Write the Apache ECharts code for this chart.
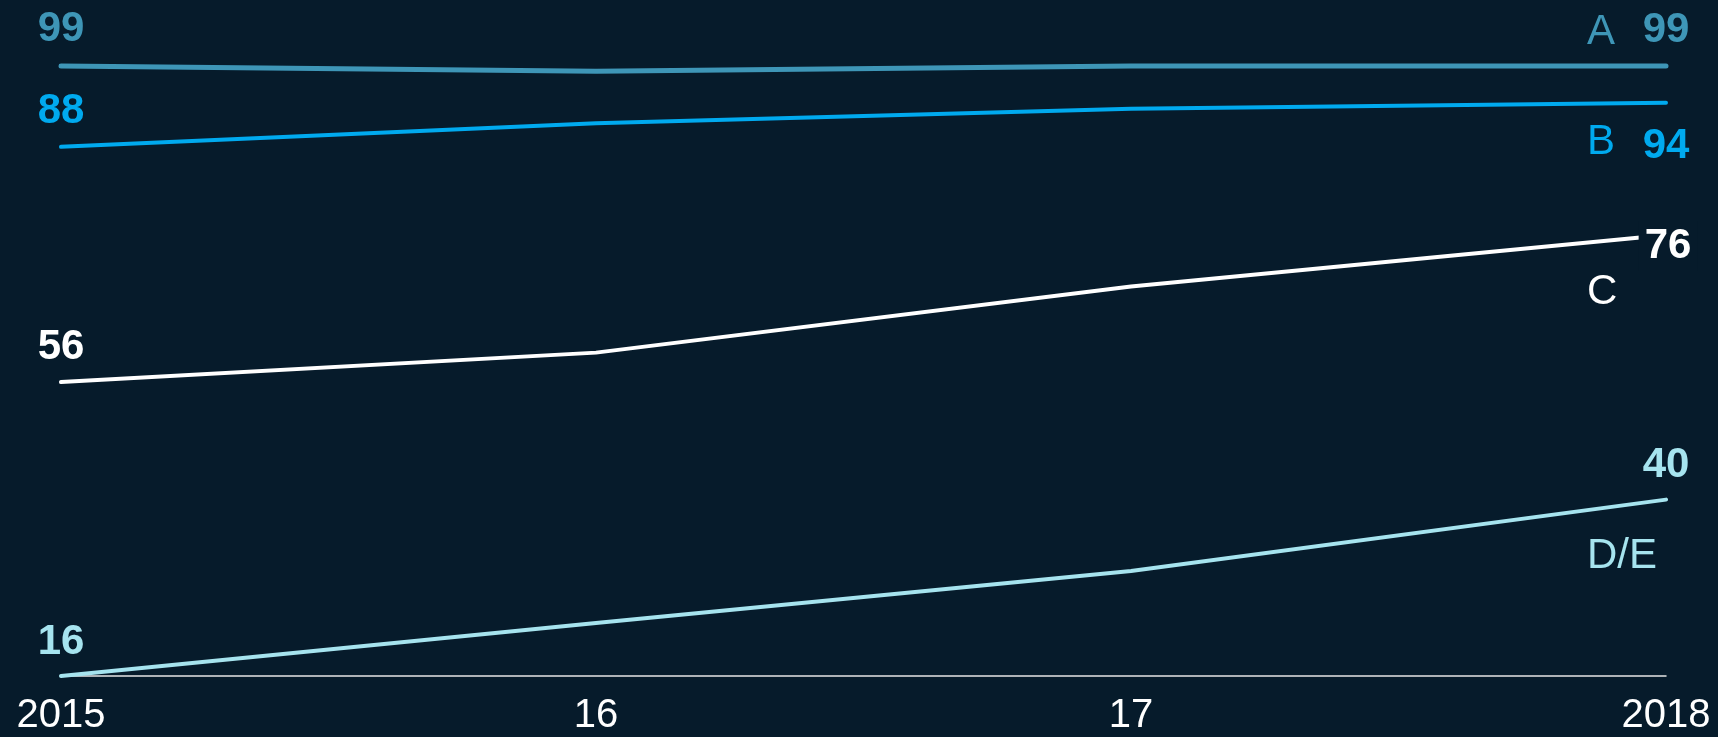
<!DOCTYPE html>
<html>
<head>
<meta charset="utf-8">
<style>
  html, body { margin: 0; padding: 0; background: #061b2b; }
  #chart { width: 1718px; height: 737px; }
</style>
<script src="https://cdn.jsdelivr.net/npm/echarts@6/dist/echarts.min.js"></script>
</head>
<body>
<div id="chart"></div>
<script>
// ---- data ----
const years = ['2015', '16', '17', '2018'];
const seriesNames = ['A', 'B', 'C', 'D/E'];
const valuesA = [99, 98.3, 99, 99];
const valuesB = [88, 91.2, 93.2, 94];
const valuesC = [56, 60, 69, 76];
const valuesDE = [16, 23.2, 30.3, 40];

// ---- styles ----
const BG = '#061b2b';
const colors = ['#3e96b7', '#00aaef', '#ffffff', '#a6e4ef'];
const FONT = 'Liberation Sans, Arial, sans-serif';

// start/end label offsets and name label offsets (pixels)
const startOffsets = [[0, -37], [0, -35], [0, -35], [0, -34]];
const endOffsets = [[0, -36], [0, 44], [2, 11], [0, -34]];
const nameOffsets = [[-79, -34], [-79, 40], [-79, 57], [-79, 57]];

const allValues = [valuesA, valuesB, valuesC, valuesDE];

function valueLabel(idx, v, offset, withBg) {
  const lbl = {
    show: true,
    position: 'inside',
    offset: offset,
    formatter: String(Math.round(v)),
    color: colors[idx],
    fontFamily: FONT,
    fontWeight: 'bold',
    fontSize: 42
  };
  if (withBg) {
    lbl.backgroundColor = BG;
    lbl.padding = [4, 6, 4, 6];
  }
  return lbl;
}

function buildSeries(idx) {
  const vals = allValues[idx];
  const last = vals.length - 1;
  const transparent = 'rgba(0,0,0,0)';
  return {
    name: seriesNames[idx],
    type: 'line',
    data: vals,
    symbol: 'none',
    clip: false,
    z: 2,
    lineStyle: { color: colors[idx], width: idx === 0 ? 5 : 4, cap: 'round' },
    markPoint: {
      z: 10,
      symbol: 'circle',
      symbolSize: 1,
      itemStyle: { color: transparent },
      data: [
        {
          coord: [0, vals[0]],
          label: valueLabel(idx, vals[0], startOffsets[idx], false)
        },
        {
          coord: [last, vals[last]],
          label: valueLabel(idx, vals[last], endOffsets[idx], idx === 2)
        },
        {
          coord: [last, vals[last]],
          label: {
            show: true,
            position: 'inside',
            align: 'left',
            offset: nameOffsets[idx],
            formatter: seriesNames[idx],
            color: colors[idx],
            fontFamily: FONT,
            fontWeight: 'normal',
            fontSize: 42
          }
        }
      ]
    }
  };
}

const chart = echarts.init(document.getElementById('chart'), null, { renderer: 'canvas' });
chart.setOption({
  backgroundColor: BG,
  animation: false,
  grid: { left: 61, right: 52, top: 66, bottom: 61, containLabel: false },
  xAxis: {
    type: 'category',
    data: years,
    boundaryGap: false,
    axisLine: { show: true, lineStyle: { color: '#e6e6e6', width: 1.5 } },
    axisTick: { show: false },
    splitLine: { show: false },
    axisLabel: {
      color: '#ffffff',
      fontFamily: FONT,
      fontSize: 40,
      margin: 20,
      interval: 0
    }
  },
  yAxis: {
    type: 'value',
    min: 16,
    max: 99,
    show: false,
    splitLine: { show: false }
  },
  series: [0, 1, 2, 3].map(buildSeries)
});
</script>
</body>
</html>
